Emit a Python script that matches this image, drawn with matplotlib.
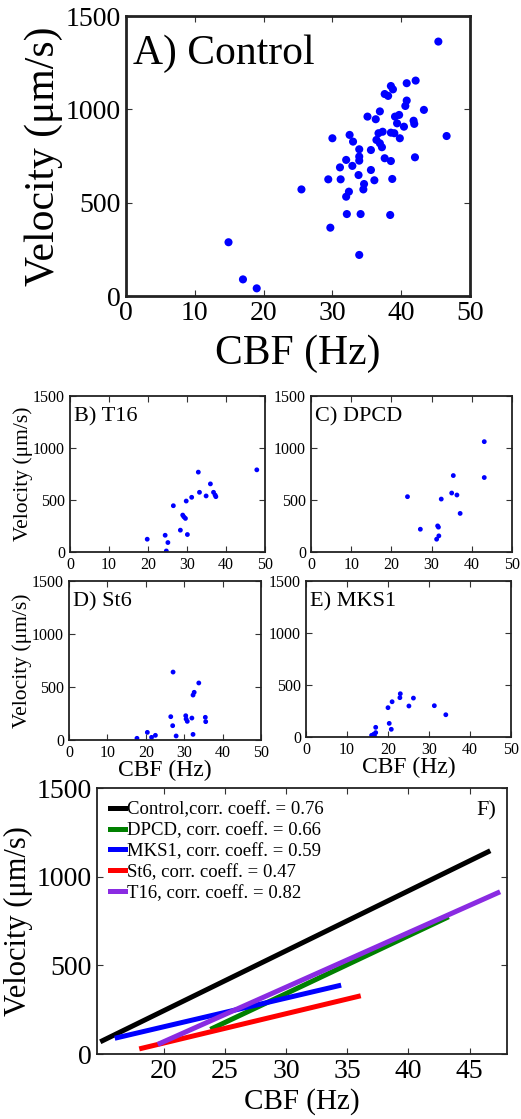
import matplotlib
matplotlib.use("Agg")
import matplotlib.pyplot as plt

plt.rcParams['font.family'] = ['Liberation Serif', 'DejaVu Serif']

# A) Control
ctrl_cbf = [45.4, 46.6, 14.9, 17.0, 19.0, 25.5, 29.7, 33.9, 29.4, 31.2, 32.1, 34.1, 38.4,
            30.0, 32.5, 33.0, 33.9, 33.9, 33.9, 32.0, 31.1, 32.9, 33.8, 35.6, 34.6, 34.5,
            36.1, 38.7, 32.4, 32.0, 35.6, 35.1, 36.3, 36.9, 37.6, 38.1, 38.5, 38.8, 40.8,
            42.1, 40.8, 40.6, 43.3, 39.1, 39.7, 39.4, 40.4, 41.8, 41.9, 36.7, 37.3, 38.5,
            39.0, 39.8, 36.4, 36.9, 37.2, 37.6, 38.5, 42.0]
ctrl_vel = [1363, 857, 288, 89, 41, 571, 366, 220, 625, 625, 439, 439, 434,
            845, 863, 827, 786, 747, 725, 729, 689, 697, 648, 675, 600, 571,
            620, 627, 559, 532, 782, 961, 947, 989, 1082, 1072, 1125, 1107, 1140,
            1154, 1047, 1018, 997, 961, 970, 925, 907, 939, 922, 872, 880, 875,
            872, 845, 836, 818, 797, 738, 723, 743]

# B) T16
t16_cbf = [19.8, 24.4, 25.1, 24.7, 26.5, 28.3, 28.9, 29.2, 29.6, 30.1, 29.8, 31.2,
           32.9, 33.2, 34.9, 36.0, 36.8, 37.2, 37.4, 47.9]
t16_vel = [123, 161, 91, 10, 445, 210, 355, 338, 323, 168, 490, 526,
           768, 574, 539, 655, 574, 548, 532, 790]

# C) DPCD
dpcd_cbf = [24.0, 27.2, 31.25, 31.8, 31.5, 31.7, 32.4, 35.0, 36.3, 35.4, 37.1, 43.1, 43.1]
dpcd_vel = [532, 219, 123, 155, 251, 239, 509, 567, 548, 735, 371, 1061, 716]

# D) St6
st6_cbf = [17.7, 20.4, 21.5, 22.5, 27.1, 26.5, 27.0, 27.9, 30.4, 30.5, 30.8, 32.0,
           32.3, 32.6, 33.8, 32.3, 35.5, 35.6]
st6_vel = [16, 72, 25, 44, 641, 220, 135, 38, 229, 198, 176, 207,
           424, 450, 538, 53, 214, 173]

# E) MKS1
mks1_cbf = [16.0, 16.5, 17.0, 17.0, 16.7, 20.3, 20.8, 20.0, 21.0, 22.9, 23.0, 25.1,
            26.2, 31.3, 34.1]
mks1_vel = [16, 26, 42, 93, 10, 131, 74, 282, 339, 378, 416, 298, 374, 301, 214]

# F) fit lines (end points read off the picture)
fit_names = ['Control,corr. coeff. = 0.76', 'DPCD, corr. coeff. = 0.66',
             'MKS1, corr. coeff. = 0.59', 'St6, corr. coeff. = 0.47',
             'T16, corr. coeff. = 0.82']
fit_x = [[15.0, 46.5], [24.0, 43.1], [16.2, 34.3], [18.2, 35.9], [19.7, 47.3]]
fit_y = [[75, 1140], [145, 768], [92, 385], [32, 325], [60, 909]]
fit_colors = ['black', 'green', 'blue', 'red', 'blueviolet']

W, H = 521.0, 1119.0


def box(x0, x1, y0, y1):
    return [x0 / W, 1 - y1 / H, (x1 - x0) / W, (y1 - y0) / H]


def style(ax, tsize, lw):
    ax.tick_params(direction='in', top=True, right=True, labelsize=tsize,
                   length=4, width=0.8, colors='#333333', labelcolor='black')
    for s in ax.spines.values():
        s.set_linewidth(lw)
        s.set_color('#222222')


fig = plt.figure(figsize=(5.21, 11.19), dpi=100)

axA = fig.add_axes(box(126, 470, 16, 296))
axA.scatter(ctrl_cbf, ctrl_vel, s=34, color='blue', edgecolors='none')
axA.set_xlim(0, 50)
axA.set_ylim(0, 1500)
axA.set_xticks([0, 10, 20, 30, 40, 50])
axA.set_yticks([0, 500, 1000, 1500])
style(axA, 20, 2)
axA.set_xlabel('CBF (Hz)', fontsize=30, labelpad=6)
axA.set_ylabel('Velocity (μm/s)', fontsize=30, labelpad=2)
axA.text(0.02, 0.935, 'A) Control', transform=axA.transAxes, fontsize=30, va='top')

small = [
    (box(70, 265, 396, 552), t16_cbf, t16_vel, 'B) T16', True, False),
    (box(311, 512, 396, 552), dpcd_cbf, dpcd_vel, 'C) DPCD', False, False),
    (box(69, 261, 581, 740), st6_cbf, st6_vel, 'D) St6', True, True),
    (box(306, 511, 581, 737), mks1_cbf, mks1_vel, 'E) MKS1', False, True),
]
for rect, xs, ys, name, ylab, xlab in small:
    ax = fig.add_axes(rect)
    ax.scatter(xs, ys, s=12, color='blue', edgecolors='none')
    ax.set_xlim(0, 50)
    ax.set_ylim(0, 1500)
    ax.set_xticks([0, 10, 20, 30, 40, 50])
    ax.set_yticks([0, 500, 1000, 1500])
    style(ax, 11.5, 1.3)
    ax.text(0.02, 0.93, name, transform=ax.transAxes, fontsize=16, va='top')
    if ylab:
        ax.set_ylabel('Velocity (μm/s)', fontsize=15.5, labelpad=0)
    if xlab:
        ax.set_xlabel('CBF (Hz)', fontsize=17, labelpad=-1)

axF = fig.add_axes(box(97, 507, 788, 1054))
for xs, ys, c, lab in zip(fit_x, fit_y, fit_colors, fit_names):
    axF.plot(xs, ys, color=c, lw=3.6, label=lab)
axF.set_xlim(14.55, 48.05)
axF.set_ylim(0, 1500)
axF.set_xticks([20, 25, 30, 35, 40, 45])
axF.set_yticks([0, 500, 1000, 1500])
style(axF, 20, 1.3)
axF.set_xlabel('CBF (Hz)', fontsize=21, labelpad=3)
axF.set_ylabel('Velocity (μm/s)', fontsize=22, labelpad=3)
axF.text(0.975, 0.95, 'F)', transform=axF.transAxes, fontsize=16, va='top', ha='right')
axF.legend(loc='upper left', frameon=False, fontsize=13.5, handlelength=0.8,
           handletextpad=0.1, labelspacing=0.2, borderaxespad=0.3,
           bbox_to_anchor=(0.0, 1.0))

fig.savefig('out.png', dpi=100)
